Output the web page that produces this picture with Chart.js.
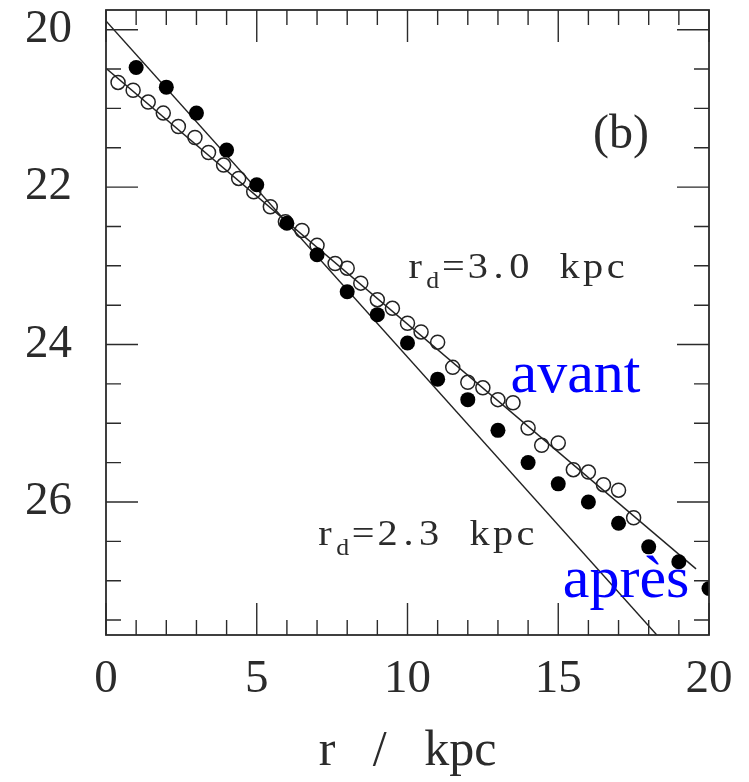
<!DOCTYPE html>
<html>
<head>
<meta charset="utf-8">
<script src="https://cdn.jsdelivr.net/npm/chart.js@4.4.0/dist/chart.umd.min.js"></script>
<style>
  html, body { margin: 0; background: #fff; }
  #wrap { width: 749px; height: 782px; }
</style>
</head>
<body>
<div id="wrap"><canvas id="myChart"></canvas></div>
<script>
// open circles (avant)
const avantR = [0.4, 0.9, 1.4, 1.9, 2.4, 2.95, 3.4, 3.9, 4.4, 4.9, 5.45, 5.95, 6.5, 7.0, 7.6,
  8.0, 8.45, 9.0, 9.5, 10.0, 10.45, 11.0, 11.5, 12.0, 12.5, 13.0, 13.5, 14.0, 14.45, 15.0,
  15.5, 16.0, 16.5, 17.0, 17.5];
const avantMu = [20.67, 20.77, 20.92, 21.06, 21.23, 21.37, 21.56, 21.72, 21.89, 22.06, 22.25, 22.44, 22.55, 22.74, 22.97,
  23.03, 23.22, 23.43, 23.54, 23.73, 23.84, 23.97, 24.29, 24.48, 24.55, 24.70, 24.74, 25.06, 25.28, 25.25,
  25.59, 25.62, 25.78, 25.85, 26.20];
// filled circles (apres)
const apresR = [1, 2, 3, 4, 5, 6, 7, 8, 9, 10, 11, 12, 13, 14, 15, 16, 17, 18, 19, 20];
const apresMu = [20.48, 20.73, 21.06, 21.53, 21.97, 22.46, 22.86, 23.33, 23.62, 23.98,
  24.44, 24.70, 25.09, 25.50, 25.77, 26.00, 26.27, 26.57, 26.76, 27.10];
// exponential disc fits
const fit30R = [0, 19.57];
const fit30Mu = [20.49, 26.85];
const fit23R = [0, 18.27];
const fit23Mu = [19.89, 27.69];
// tick labels
const xTicks = [0, 5, 10, 15, 20];
const yTicks = [20, 22, 24, 26];

const ink = "#2b2b2b";
const serif = "'Liberation Serif', 'Times New Roman', serif";

const pts = (xs, ys) => xs.map((v, i) => ({ x: v, y: ys[i] }));

// box with inward ticks on all four sides, plus the text labels
const frame = {
  id: "frame",
  afterDatasetsDraw(chart) {
    const { ctx, chartArea: a, scales } = chart;
    const x = scales.x, y = scales.y;
    ctx.save();
    ctx.strokeStyle = ink;
    ctx.lineWidth = 1.8;
    ctx.strokeRect(a.left, a.top, a.right - a.left, a.bottom - a.top);
    ctx.lineWidth = 1.4;
    ctx.beginPath();
    for (let v = 0; v <= 20; v++) {
      const px = x.getPixelForValue(v);
      const len = v % 5 === 0 ? 32 : 15;
      ctx.moveTo(px, a.bottom); ctx.lineTo(px, a.bottom - len);
      ctx.moveTo(px, a.top); ctx.lineTo(px, a.top + len);
    }
    for (let v = 20; v <= 27.5; v += 0.5) {
      const py = y.getPixelForValue(v);
      const len = v % 2 === 0 ? 32 : 15;
      ctx.moveTo(a.left, py); ctx.lineTo(a.left + len, py);
      ctx.moveTo(a.right, py); ctx.lineTo(a.right - len, py);
    }
    ctx.stroke();

    ctx.fillStyle = ink;
    ctx.textBaseline = "alphabetic";
    ctx.textAlign = "left";
    ctx.font = "48px " + serif;
    ctx.fillText("(b)", x.getPixelForValue(16.15), y.getPixelForValue(21.5));

    // r_d = ... kpc, drawn a little wide like the TeX original
    const rdLabel = (r0, mu0, num) => {
      ctx.save();
      ctx.translate(x.getPixelForValue(r0), y.getPixelForValue(mu0));
      ctx.scale(1.12, 1);
      ctx.font = "36px " + serif;
      ctx.fillText("r", 0, 0);
      ctx.font = "23px " + serif;
      ctx.fillText("d", 16, 10);
      ctx.font = "36px " + serif;
      ctx.fillText("=", 30, 0);
      ctx.letterSpacing = "5px";
      ctx.fillText(num, 53, 0);
      ctx.letterSpacing = "3px";
      ctx.fillText("kpc", 135, 0);
      ctx.restore();
    };
    rdLabel(10.03, 23.16, "3.0");
    rdLabel(7.04, 26.55, "2.3");

    ctx.fillStyle = "#0000ff";
    ctx.font = "60px " + serif;
    ctx.fillText("avant", x.getPixelForValue(13.42), y.getPixelForValue(24.6));
    ctx.fillText("après", x.getPixelForValue(15.15), y.getPixelForValue(27.21));
    ctx.restore();
  }
};

new Chart("myChart", {
  type: "scatter",
  data: {
    datasets: [
      {
        label: "après",
        data: pts(apresR, apresMu),
        pointRadius: 7.5,
        pointBackgroundColor: "#000",
        pointBorderWidth: 0,
        order: 0,
      },
      {
        label: "avant",
        data: pts(avantR, avantMu),
        pointRadius: 7,
        pointBackgroundColor: "rgba(0,0,0,0)",
        pointBorderColor: "#222",
        pointBorderWidth: 1.5,
        order: 1,
      },
      {
        label: "rd=3.0",
        data: pts(fit30R, fit30Mu),
        showLine: true,
        borderColor: "#222",
        borderWidth: 1.4,
        pointRadius: 0,
        order: 2,
      },
      {
        label: "rd=2.3",
        data: pts(fit23R, fit23Mu),
        showLine: true,
        borderColor: "#222",
        borderWidth: 1.4,
        pointRadius: 0,
        order: 3,
      },
    ],
  },
  options: {
    responsive: true,
    maintainAspectRatio: false,
    animation: false,
    layout: { padding: { top: 10, right: 40, left: 0, bottom: 0 } },
    plugins: { legend: { display: false }, tooltip: { enabled: false } },
    scales: {
      x: {
        type: "linear",
        min: 0,
        max: 20,
        afterBuildTicks: (s) => { s.ticks = xTicks.map((v) => ({ value: v })); },
        afterFit: (s) => { s.height = 147; s.paddingLeft = 0; s.paddingRight = 0; },
        grid: { display: false },
        border: { display: false },
        ticks: {
          color: ink,
          font: { family: serif, size: 47 },
          padding: 8,
          maxRotation: 0,
          autoSkip: false,
        },
        title: {
          display: true,
          text: "r   /   kpc",
          color: ink,
          font: { family: serif, size: 50 },
          padding: { top: 0, bottom: 0 },
        },
      },
      y: {
        type: "linear",
        reverse: true,
        min: 19.75,
        max: 27.69,
        afterBuildTicks: (s) => { s.ticks = yTicks.map((v) => ({ value: v })); },
        afterFit: (s) => { s.width = 106; s.paddingTop = 0; s.paddingBottom = 0; },
        grid: { display: false },
        border: { display: false },
        ticks: {
          color: ink,
          font: { family: serif, size: 47 },
          padding: 26,
          autoSkip: false,
        },
      },
    },
  },
  plugins: [frame],
});
</script>
</body>
</html>
